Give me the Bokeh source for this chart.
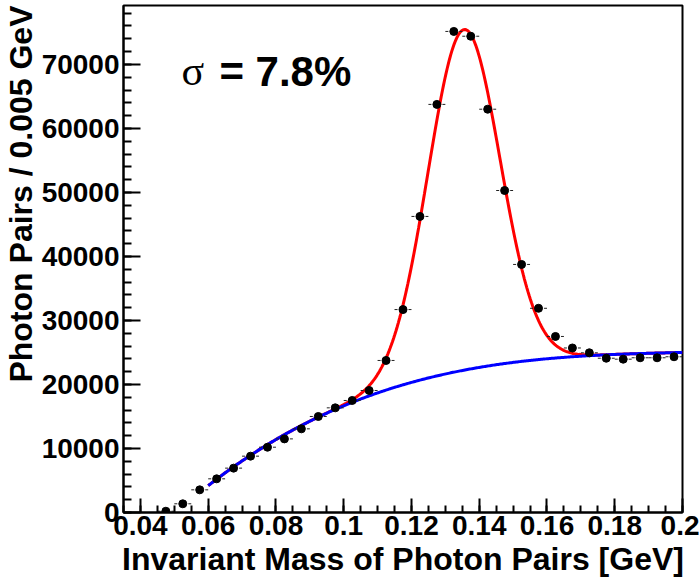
import numpy as np
from bokeh.plotting import figure
from bokeh.models import Range1d, FixedTicker, Label, Title, ColumnDataSource
from bokeh.embed import file_html
from bokeh.resources import INLINE

# ---- data ----
mass = [0.0475, 0.0525, 0.0575, 0.0625, 0.0675, 0.0725, 0.0775, 0.0825, 0.0875, 0.0925,
        0.0975, 0.1025, 0.1075, 0.1125, 0.1175, 0.1225, 0.1275, 0.1325, 0.1375, 0.1425,
        0.1475, 0.1525, 0.1575, 0.1625, 0.1675, 0.1725, 0.1775, 0.1825, 0.1875, 0.1925,
        0.1975]
counts = [200, 1360, 3540, 5260, 6930, 8800, 10200, 11500, 13070, 15000,
          16350, 17500, 19060, 23750, 31700, 46250, 63750, 75150, 74400, 63000,
          50300, 38750, 31900, 27500, 25700, 24950, 24100, 23950, 24170, 24170,
          24330]
bin_half_width = 0.0025

x_ticks = [0.04, 0.06, 0.08, 0.10, 0.12, 0.14, 0.16, 0.18, 0.20]
x_tick_labels = ["0.04", "0.06", "0.08", "0.1", "0.12", "0.14", "0.16", "0.18", "0.2"]
y_ticks = [0, 10000, 20000, 30000, 40000, 50000, 60000, 70000]
y_tick_labels = ["0", "10000", "20000", "30000", "40000", "50000", "60000", "70000"]

# fit parameters: Gaussian peak + cubic background
gauss_amp = 53200.0
gauss_mean = 0.1355
gauss_sigma = 0.01057
bkg_coeffs = [4190.0, 57980.0, -55180.0, 18010.0]   # in u = (x - 0.06) / 0.14
bkg_x0, bkg_scale = 0.06, 0.14
fit_x_min, fit_x_max = 0.06, 0.2
resolution_text = "= 7.8%"
x_title = "Invariant Mass of Photon Pairs [GeV]"
y_title = "Photon Pairs / 0.005 GeV"

# ---- figure ----
FONT = "Liberation Sans"
XMIN, XMAX = 0.035, 0.2
YMIN, YMAX = 0, 79200
p = figure(width=699, height=583,
           x_range=Range1d(XMIN, XMAX), y_range=Range1d(YMIN, YMAX),
           output_backend="svg", toolbar_location=None,
           min_border_left=122, min_border_right=17,
           min_border_top=5, min_border_bottom=71)
p.grid.visible = False
p.background_fill_color = "white"
p.border_fill_color = "white"
p.outline_line_color = "black"
p.outline_line_width = 2

xminor = np.round(np.arange(0.035, 0.2001, 0.005), 4).tolist()
yminor = list(range(0, 80000, 2000))
p.xaxis.ticker = FixedTicker(ticks=x_ticks, minor_ticks=xminor)
p.yaxis.ticker = FixedTicker(ticks=y_ticks, minor_ticks=yminor)
p.xaxis.major_label_overrides = {t: l for t, l in zip(x_ticks, x_tick_labels)}
p.yaxis.major_label_overrides = {t: l for t, l in zip(y_ticks, y_tick_labels)}

for ax, maj, mnr in ((p.xaxis, 14, 7), (p.yaxis, 17, 8)):
    ax.major_tick_in = maj
    ax.major_tick_out = 0
    ax.minor_tick_in = mnr
    ax.minor_tick_out = 0
    ax.major_tick_line_width = 2
    ax.minor_tick_line_width = 2
    ax.major_tick_line_color = "black"
    ax.minor_tick_line_color = "black"
    ax.axis_line_width = 2
    ax.axis_line_color = "black"
    ax.major_label_text_font = FONT
    ax.major_label_text_font_style = "bold"
    ax.major_label_text_font_size = "28px"
    ax.major_label_text_color = "black"

p.xaxis.major_label_standoff = 3
p.yaxis.major_label_standoff = 4

p.xaxis.axis_label = x_title
p.xaxis.axis_label_text_font = FONT
p.xaxis.axis_label_text_font_style = "bold"
p.xaxis.axis_label_text_font_size = "32px"
p.xaxis.axis_label_text_color = "black"
p.xaxis.axis_label_standoff = 3

# y-axis title, aligned with the top of the frame (ROOT style)
p.add_layout(Title(text=y_title, align="right", standoff=0, offset=0,
                   text_font=FONT, text_font_style="bold", text_font_size="32px",
                   text_color="black"), "left")

# ---- fit curves ----
xf = np.linspace(fit_x_min, fit_x_max, 400)
u = (xf - bkg_x0) / bkg_scale
bkg = sum(c * u ** i for i, c in enumerate(bkg_coeffs))
total = bkg + gauss_amp * np.exp(-0.5 * ((xf - gauss_mean) / gauss_sigma) ** 2)
p.line(xf, total, line_color="#ff0000", line_width=3)
p.line(xf, bkg, line_color="#0000ff", line_width=3)

# ---- data points with horizontal error bars ----
m = np.array(mass)
src = ColumnDataSource(dict(x=m, y=counts,
                            x0=m - bin_half_width, x1=m + bin_half_width))
p.segment(x0="x0", y0="y", x1="x1", y1="y", source=src,
          line_color="#222222", line_width=1, line_dash="3 11")
p.scatter(x="x", y="y", source=src, size=8, marker="circle",
          fill_color="black", line_color="black")

# ---- annotation ----
p.add_layout(Label(x=0.0521, y=68900, text="σ", text_font="Liberation Serif",
                   text_font_size="42px", text_color="black",
                   text_baseline="middle"))
p.add_layout(Label(x=0.0633, y=68900, text=resolution_text, text_font=FONT,
                   text_font_style="bold", text_font_size="42px",
                   text_color="black", text_baseline="middle"))

open("out.html", "w").write(file_html(p, INLINE))
